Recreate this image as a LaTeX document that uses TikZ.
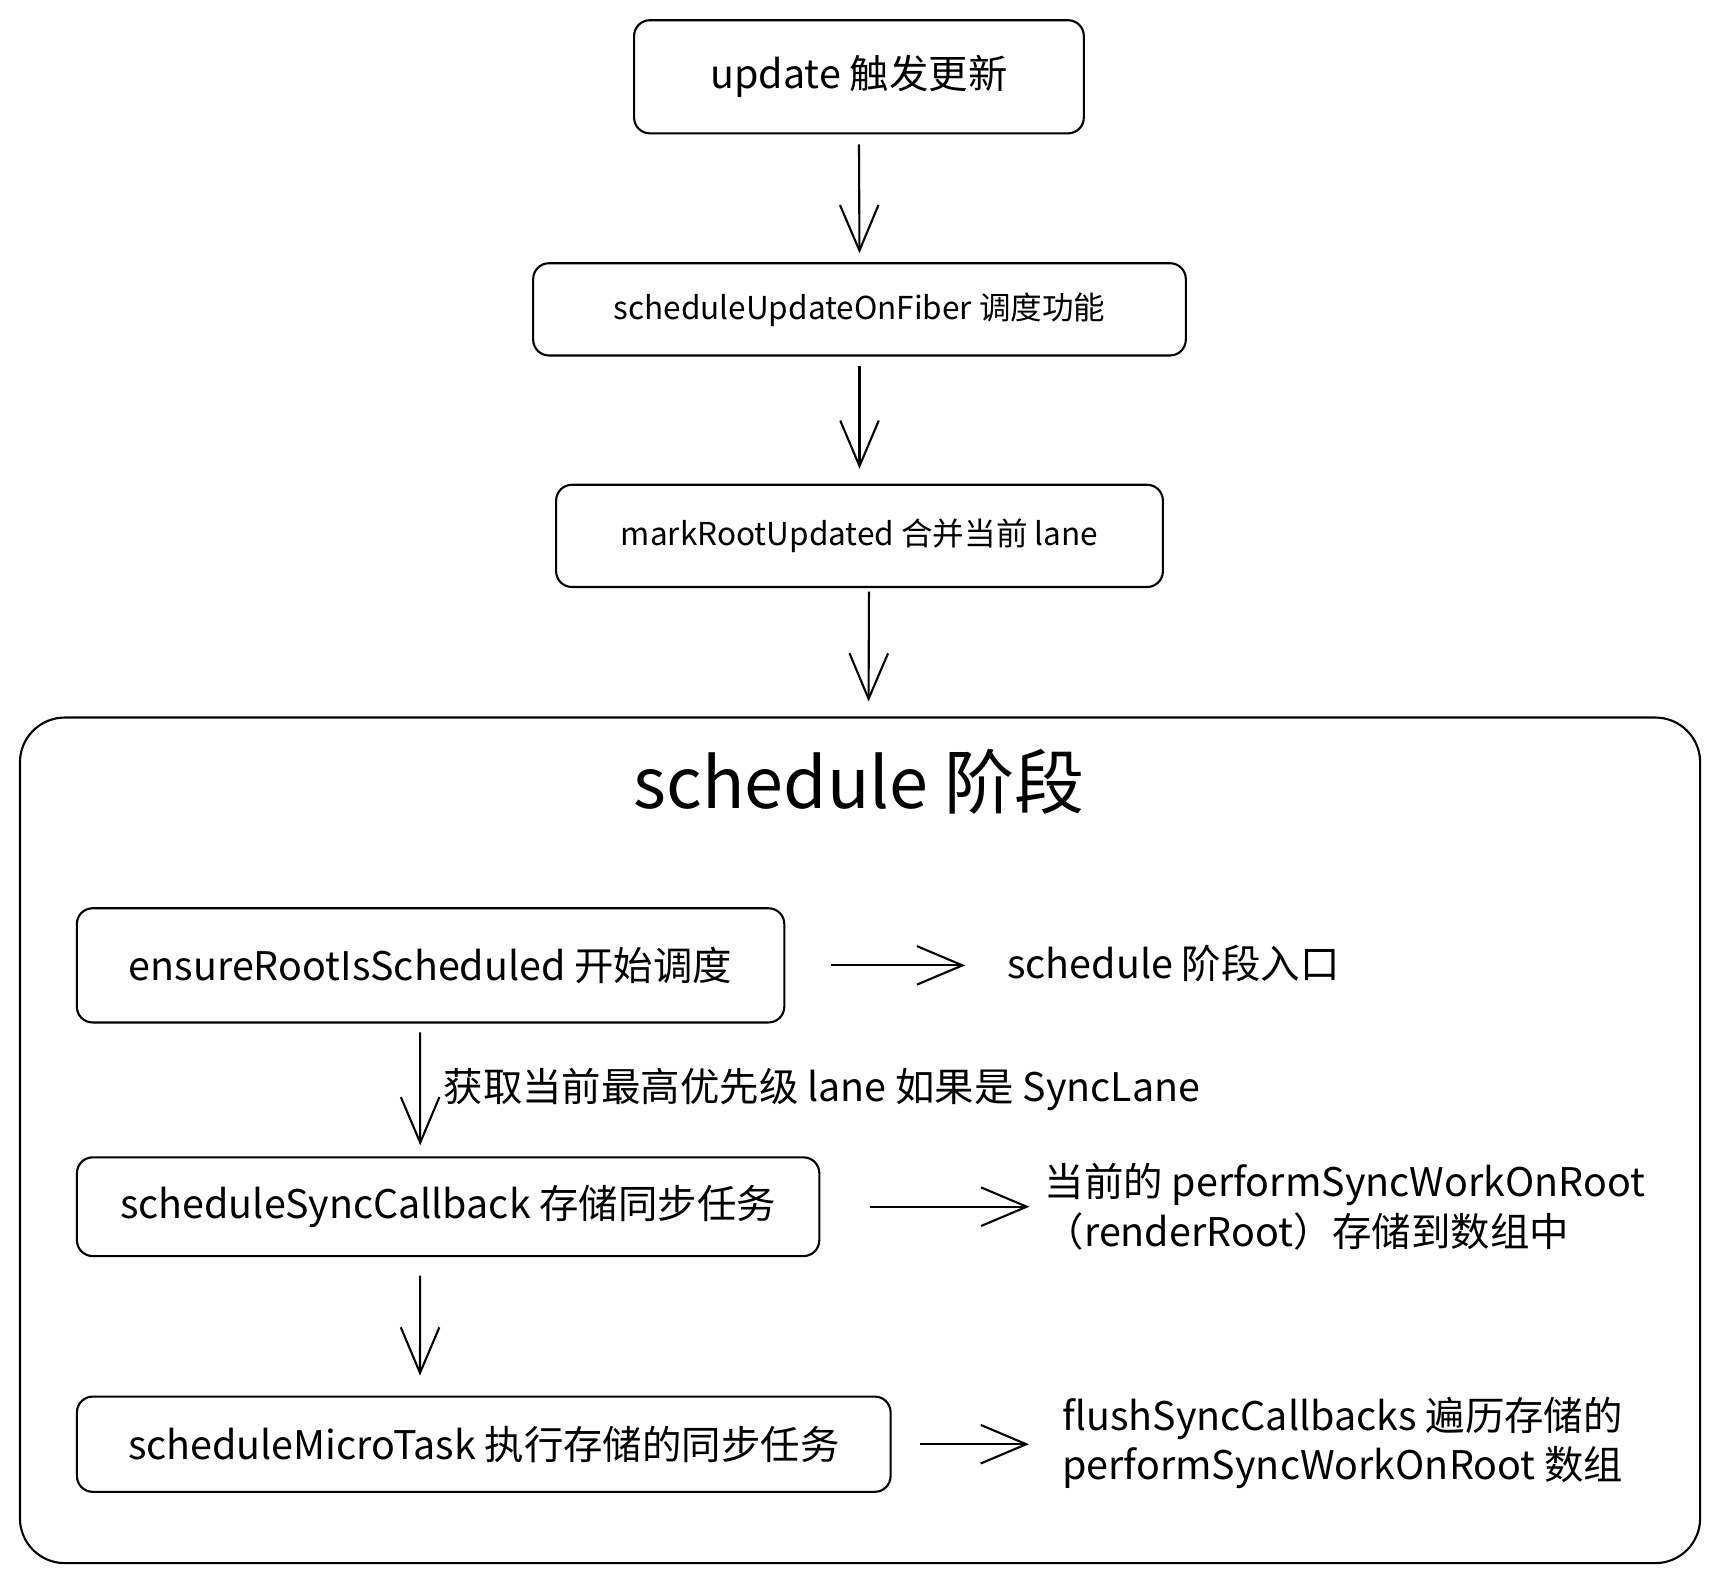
\documentclass[tikz,border=0pt]{standalone}
\usepackage{fontspec}
\setmainfont{Noto Sans CJK SC}
\usetikzlibrary{arrows.meta}

\begin{document}
\begin{tikzpicture}[x=0.022cm,y=-0.022cm,
    stage/.style={draw,line width=1.2pt,rounded corners=9pt,inner sep=0pt,
        font=\fontsize{22.5}{27}\selectfont},
    small/.style={font=\fontsize{18}{22}\selectfont},
    note/.style={anchor=west,inner sep=0pt,align=left,
        font=\fontsize{22.5}{28}\selectfont},
    flow/.style={line width=1.2pt,-{Straight Barb[length=26pt,width=22pt,line width=1.2pt]}}]
    \useasboundingbox (0,0) rectangle (1567,1441);
    %% top chain
    \node[stage,minimum width=9.02cm,minimum height=2.27cm] (update) at (783,70) {update 触发更新};
    \node[stage,small,minimum width=13.09cm,minimum height=1.85cm] (fiber) at (783.5,282) {scheduleUpdateOnFiber 调度功能};
    \node[stage,small,minimum width=12.17cm,minimum height=2.05cm] (mark) at (783.5,488.5) {markRootUpdated 合并当前 lane};
    %% schedule phase
    \node[stage,rounded corners=0.9cm,minimum width=33.70cm,minimum height=16.96cm] (phase) at (784,1039.5) {};
    \node[font=\fontsize{40}{48}\selectfont] (title) at (783,713) {schedule 阶段};
    \node[stage,minimum width=14.19cm,minimum height=2.29cm] (ensure) at (392.5,880) {ensureRootIsScheduled 开始调度};
    \node[stage,minimum width=14.89cm,minimum height=1.98cm] (sync) at (408.5,1100) {scheduleSyncCallback 存储同步任务};
    \node[stage,minimum width=16.32cm,minimum height=1.91cm] (micro) at (441,1316.5) {scheduleMicroTask 执行存储的同步任务};
    %% notes
    \node[note] (entry) at (918,878) {schedule 阶段入口};
    \node[note] (store) at (952,1100) {当前的 performSyncWorkOnRoot\\（renderRoot）存储到数组中};
    \node[note] (flush) at (968,1315) {flushSyncCallbacks 遍历存储的\\performSyncWorkOnRoot 数组};
    %% arrows
    \draw[flow,shorten <=0.2cm,shorten >=0.18cm] (update.south) -- (fiber.north);
    \draw[flow,shorten <=0.18cm,shorten >=0.3cm] (fiber.south) -- (mark.north);
    \draw[flow,shorten <=0.07cm,shorten >=0.3cm] ([xshift=0.19cm]mark.south) -- ([xshift=0.17cm]phase.north);
    \draw[flow,shorten <=0.18cm,shorten >=0.22cm] ([xshift=-0.21cm]ensure.south) -- ([xshift=-0.56cm]sync.north)
        node[midway,anchor=west,xshift=0.45cm,note,inner sep=0pt] (cond) {获取当前最高优先级 lane 如果是 SyncLane};
    \draw[flow,shorten <=0.37cm,shorten >=0.4cm] ([xshift=-0.56cm]sync.south) -- ([xshift=-1.28cm]micro.north);
    \draw[flow,shorten <=0.92cm,shorten >=0.84cm] (ensure.east) -- (entry.west |- ensure.east);
    \draw[flow,shorten <=1.0cm,shorten >=0.3cm] (sync.east) -- (store.west |- sync.east);
    \draw[flow,shorten <=0.57cm,shorten >=0.66cm] (micro.east) -- (flush.west |- micro.east);
\end{tikzpicture}
\end{document}
